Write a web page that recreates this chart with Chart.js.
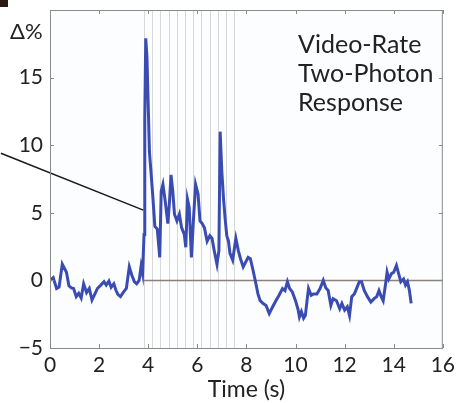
<!DOCTYPE html>
<html lang="en">
<head>
    <meta charset="UTF-8">
    <title>Video-Rate Two-Photon Response</title>
    <script src="https://cdn.jsdelivr.net/npm/chart.js@4.4.1/dist/chart.umd.min.js"></script>
    <style>
        html, body { margin: 0; padding: 0; background: #ffffff; }
        #wrap { width: 460px; height: 403px; position: relative; }
    </style>
</head>
<body>
<div id="wrap">
    <canvas id="myChart" width="460" height="403"></canvas>
</div>

<script>
    // trace (time in s, response in %)
    var times = [0.00, 0.13, 0.27, 0.37, 0.50, 0.67, 0.77, 0.87, 0.96, 1.07, 1.17, 1.27, 1.37, 1.49, 1.60, 1.71, 1.80, 1.93,
        2.07, 2.20, 2.29, 2.40, 2.49, 2.60, 2.69, 2.77, 2.87, 3.00, 3.11, 3.23, 3.33, 3.44, 3.53, 3.63, 3.71, 3.77,
        3.83, 3.86, 3.90, 3.95, 4.00, 4.05, 4.11, 4.20, 4.27, 4.37, 4.47, 4.53, 4.60, 4.69, 4.80, 4.87, 4.93, 5.00,
        5.07, 5.17, 5.27, 5.36, 5.47, 5.53, 5.60, 5.67, 5.76, 5.84, 5.93, 6.03, 6.11, 6.20, 6.29, 6.40, 6.51, 6.60,
        6.69, 6.80, 6.88, 6.93, 7.00, 7.07, 7.13, 7.20, 7.27, 7.33, 7.44, 7.57, 7.67, 7.76, 7.87, 7.97, 8.07, 8.16,
        8.27, 8.37, 8.47, 8.56, 8.67, 8.80, 8.93, 9.07, 9.20, 9.33, 9.47, 9.57, 9.67, 9.76, 9.87, 10.00, 10.11, 10.16,
        10.24, 10.33, 10.40, 10.47, 10.53, 10.64, 10.73, 10.87, 11.00, 11.13, 11.23, 11.33, 11.44, 11.53, 11.67, 11.80,
        11.89, 12.00, 12.11, 12.20, 12.29, 12.40, 12.51, 12.60, 12.69, 12.80, 12.93, 13.07, 13.20, 13.31, 13.40, 13.49,
        13.57, 13.67, 13.73, 13.80, 13.91, 14.00, 14.11, 14.20, 14.29, 14.40, 14.48, 14.56, 14.64, 14.71];
    var response = [0.0, 0.2, -0.6, -0.5, 1.2, 0.6, -0.4, -0.55, -0.6, -1.2, -0.95, -1.3, -0.25, -0.9, -0.6, -1.45, -1.1, -0.6,
        -0.35, -0.1, -0.35, -0.05, -0.5, -0.25, -0.75, -1.05, -1.2, -0.85, -0.6, 1.0, 0.4, -0.1, -0.25, 0.0, 1.05, 0.5,
        3.4, 12.0, 17.9, 16.5, 13.0, 9.5, 8.1, 5.9, 4.0, 3.8, 1.7, 6.6, 7.1, 5.9, 4.2, 5.9, 7.8, 6.6,
        4.9, 4.4, 4.9, 3.9, 3.4, 2.45, 6.0, 5.4, 1.7, 4.4, 7.1, 6.4, 4.4, 4.2, 3.9, 2.9, 3.3, 3.1,
        2.2, 1.2, 2.2, 11.0, 8.0, 6.0, 4.65, 3.3, 2.9, 2.0, 1.5, 3.1, 2.2, 1.6, 1.0, 1.35, 1.7, 1.6,
        0.75, -0.1, -1.0, -1.5, -1.7, -1.85, -2.45, -1.95, -1.5, -1.1, -0.6, -0.75, -0.1, -0.6, -0.85, -1.5, -2.2, -2.7,
        -2.3, -2.8, -2.6, -1.5, -0.6, -1.1, -1.0, -1.0, -0.6, 0.0, -0.55, -0.75, -1.85, -1.35, -1.5, -2.1,
        -1.7, -2.2, -1.95, -2.6, -1.2, -1.0, -0.5, -0.1, -0.1, -0.75, -1.2, -1.6, -1.35, -1.2, -0.75, -1.2,
        -1.5, -0.25, 0.6, 0.1, 0.5, 0.6, 1.1, 0.5, -0.1, 0.1, -0.35, -0.1, -0.75, -1.7];

    // stimulus marks (s)
    var stimTimes = [3.83, 4.17, 4.50, 4.83, 5.17, 5.50, 5.83, 6.17, 6.50, 6.83, 7.17, 7.50];

    // baseline and pointer line
    var baseX = [3.8, 16];
    var baseY = [0, 0];
    var noteX = [-2, 3.8];
    var noteY = [9.4, 5.2];

    var xTicks = [0, 2, 4, 6, 8, 10, 12, 14, 16];
    var yTicks = [-5, 0, 5, 10, 15, 20];
    var labelLines = ["Video-Rate", "Two-Photon", "Response"];

    function pts(xs, ys) {
        var out = [];
        for (var i = 0; i < xs.length; i++) out.push({x: xs[i], y: ys[i]});
        return out;
    }

    var FONT = "Lato, 'Noto Sans', sans-serif";
    var AXIS = "#8a8a8a";

    var decor = {
        id: 'decor',
        beforeDraw: function (chart) {
            var ctx = chart.ctx;
            ctx.save();
            ctx.fillStyle = "#ffffff";
            ctx.fillRect(0, 0, chart.width, chart.height);
            ctx.fillStyle = "#fcfdfe";
            var a = chart.chartArea;
            ctx.fillRect(a.left, a.top, a.right - a.left, a.bottom - a.top);
            // corner mark of the panel letter
            ctx.fillStyle = "#2a1a12";
            ctx.fillRect(0, 0, 8, 7);
            ctx.restore();
        },
        beforeDatasetsDraw: function (chart) {
            var ctx = chart.ctx;
            var a = chart.chartArea;
            var xs = chart.scales.x;
            ctx.save();
            ctx.strokeStyle = "#d8d8d8";
            ctx.lineWidth = 1;
            stimTimes.forEach(function (t) {
                var px = Math.round(xs.getPixelForValue(t)) + 0.5;
                ctx.beginPath();
                ctx.moveTo(px, a.top);
                ctx.lineTo(px, a.bottom);
                ctx.stroke();
            });
            ctx.restore();
        },
        afterDraw: function (chart) {
            var ctx = chart.ctx;
            var a = chart.chartArea;
            var xs = chart.scales.x, ys = chart.scales.y;
            ctx.save();
            ctx.strokeStyle = AXIS;
            ctx.lineWidth = 1;
            ctx.strokeRect(a.left + 0.5, a.top + 0.5, a.right - a.left - 1, a.bottom - a.top);
            // inward ticks
            ctx.beginPath();
            xTicks.forEach(function (t) {
                var px = Math.round(xs.getPixelForValue(t)) + 0.5;
                ctx.moveTo(px, a.bottom); ctx.lineTo(px, a.bottom - 4);
                ctx.moveTo(px, a.top); ctx.lineTo(px, a.top + 4);
            });
            yTicks.forEach(function (v) {
                var py = Math.round(ys.getPixelForValue(v)) + 0.5;
                ctx.moveTo(a.left, py); ctx.lineTo(a.left + 4, py);
                ctx.moveTo(a.right, py); ctx.lineTo(a.right - 4, py);
            });
            ctx.stroke();

            ctx.fillStyle = "#222222";
            ctx.font = "22px " + FONT;
            ctx.textBaseline = "middle";
            ctx.textAlign = "left";
            ctx.fillText("\u0394%", 10, 32);
            ctx.font = "25px " + FONT;
            for (var i = 0; i < labelLines.length; i++) {
                ctx.fillText(labelLines[i], 298, 45 + i * 29);
            }
            ctx.restore();
        }
    };

    var ctx = document.getElementById('myChart');
    var myChart = new Chart(ctx, {
        type: 'scatter',
        data: {
            datasets: [
                {
                    label: 'Response',
                    data: pts(times, response),
                    showLine: true,
                    borderColor: "#3a4cb2",
                    borderWidth: 3,
                    pointRadius: 0,
                    tension: 0
                },
                {
                    label: 'Baseline',
                    data: pts(baseX, baseY),
                    showLine: true,
                    borderColor: "#8c817a",
                    borderWidth: 1.5,
                    pointRadius: 0
                },
                {
                    label: 'Pointer',
                    data: pts(noteX, noteY),
                    showLine: true,
                    borderColor: "#1a1a1a",
                    borderWidth: 1.5,
                    pointRadius: 0,
                    clip: false
                }
            ]
        },
        options: {
            responsive: false,
            maintainAspectRatio: false,
            animation: false,
            events: [],
            layout: { padding: { left: 0, right: 8, top: 10, bottom: 0 } },
            plugins: {
                legend: { display: false },
                tooltip: { enabled: false }
            },
            scales: {
                x: {
                    type: 'linear',
                    min: 0,
                    max: 16,
                    afterFit: function (s) { s.height = 55; },
                    afterBuildTicks: function (s) { s.ticks = xTicks.map(function (v) { return {value: v}; }); },
                    grid: { display: false, drawTicks: false },
                    border: { display: false },
                    ticks: { color: "#222222", padding: 5, font: { family: FONT, size: 21 } },
                    title: {
                        display: true,
                        text: "Time (s)",
                        color: "#222222",
                        padding: { top: 0, bottom: 0 },
                        font: { family: FONT, size: 23 }
                    }
                },
                y: {
                    type: 'linear',
                    min: -5,
                    max: 20,
                    afterFit: function (s) {
                        s.width = 50;
                        s.paddingTop = 0;
                        s.paddingBottom = 0;
                    },
                    afterBuildTicks: function (s) { s.ticks = yTicks.map(function (v) { return {value: v}; }); },
                    grid: { display: false, drawTicks: false },
                    border: { display: false },
                    ticks: {
                        color: "#222222",
                        padding: 7,
                        font: { family: FONT, size: 21 },
                        callback: function (v) {
                            if (v === 20) return "";
                            return v < 0 ? "\u2212" + Math.abs(v) : String(v);
                        }
                    }
                }
            }
        },
        plugins: [decor]
    });
</script>
</body>
</html>
